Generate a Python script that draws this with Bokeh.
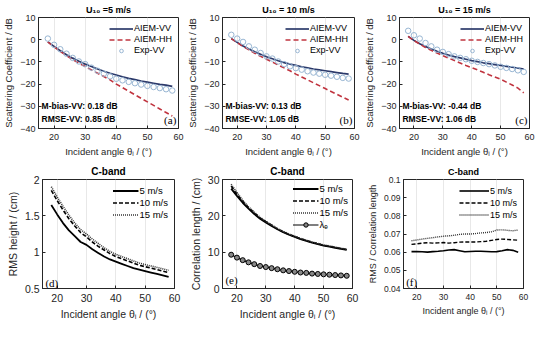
from bokeh.plotting import figure
from bokeh.layouts import column, row
from bokeh.models import Label, FixedTicker
from bokeh.embed import file_html
from bokeh.resources import INLINE

theta = [18, 20, 22, 24, 26, 28, 30, 32, 34, 36, 38, 40, 42, 44, 46, 48, 50, 52, 54, 56, 58]

# Scattering coefficient panels (dB)
vv_5 = [-1.0, -3.0, -5.0, -6.8, -8.3, -9.7, -11.0, -12.1, -13.2, -14.2, -15.1, -15.9, -16.7, -17.4, -18.0, -18.6, -19.1, -19.6, -20.1, -20.5, -21.0]
hh_5 = [-1.0, -3.2, -5.3, -7.2, -9.0, -10.6, -12.1, -13.6, -15.1, -16.6, -18.1, -20.0, -21.6, -23.2, -24.8, -26.4, -28.0, -29.6, -31.2, -32.8, -34.4]
exp_5 = [0.5, -2.3, -4.3, -6.3, -8.2, -9.8, -11.0, -12.6, -14.0, -15.3, -16.5, -17.6, -18.3, -19.0, -19.6, -20.2, -20.8, -21.3, -21.8, -22.3, -22.9]

vv_10 = [0.5, -1.2, -2.8, -4.2, -5.4, -6.6, -7.7, -8.6, -9.5, -10.3, -11.0, -11.6, -12.2, -12.7, -13.2, -13.6, -14.0, -14.4, -14.8, -15.2, -15.5]
hh_10 = [0.5, -1.3, -3.0, -4.6, -6.1, -7.5, -8.8, -10.1, -11.4, -12.7, -14.0, -15.5, -16.8, -18.1, -19.4, -20.7, -22.0, -23.3, -24.6, -25.9, -27.2]
exp_10 = [2.2, 0.5, -1.0, -3.0, -4.5, -6.0, -7.5, -8.5, -9.8, -11.0, -12.0, -12.8, -13.5, -14.2, -14.8, -15.3, -15.8, -16.2, -16.7, -17.2, -17.5]

vv_15 = [1.5, -0.3, -1.8, -3.1, -4.2, -5.2, -6.1, -6.9, -7.6, -8.2, -8.8, -9.4, -9.9, -10.4, -10.8, -11.2, -11.6, -12.0, -12.4, -12.8, -13.2]
hh_15 = [1.5, -0.4, -2.0, -3.5, -4.8, -6.0, -7.2, -8.3, -9.4, -10.5, -11.6, -12.6, -13.6, -14.7, -15.8, -16.8, -17.8, -19.1, -20.4, -21.8, -24.0]
exp_15 = [4.0, 2.0, 0.5, -1.5, -3.0, -4.5, -5.5, -6.5, -7.5, -8.2, -8.8, -9.5, -10.0, -10.5, -11.0, -11.6, -12.2, -12.7, -13.2, -13.8, -14.5]

mbias = ["M-bias-VV: 0.18 dB", "M-bias-VV: 0.13 dB", "M-bias-VV: -0.44 dB"]
rmse = ["RMSE-VV: 0.85 dB", "RMSE-VV: 1.05 dB", "RMSE-VV: 1.06 dB"]
titles_top = ["U\u2081\u2080 =5 m/s", "U\u2081\u2080 = 10 m/s", "U\u2081\u2080 = 15 m/s"]

# RMS height (cm)
rms_5 = [1.65, 1.52, 1.40, 1.30, 1.22, 1.14, 1.10, 1.04, 0.99, 0.94, 0.90, 0.87, 0.84, 0.81, 0.78, 0.76, 0.74, 0.72, 0.70, 0.68, 0.66]
rms_10 = [1.85, 1.71, 1.58, 1.46, 1.36, 1.27, 1.21, 1.14, 1.08, 1.03, 0.98, 0.94, 0.91, 0.88, 0.85, 0.82, 0.80, 0.78, 0.76, 0.74, 0.72]
rms_15 = [1.90, 1.76, 1.63, 1.51, 1.40, 1.31, 1.25, 1.18, 1.12, 1.06, 1.01, 0.97, 0.94, 0.91, 0.88, 0.85, 0.83, 0.81, 0.79, 0.77, 0.75]

# Correlation length (cm)
cl_5 = [27.5, 25.5, 23.6, 22.0, 20.5, 19.2, 18.2, 17.2, 16.3, 15.5, 14.8, 14.2, 13.6, 13.1, 12.6, 12.2, 11.8, 11.5, 11.2, 10.9, 10.6]
cl_10 = [28.2, 26.0, 24.0, 22.3, 20.8, 19.4, 18.4, 17.4, 16.4, 15.6, 14.9, 14.3, 13.7, 13.2, 12.7, 12.3, 11.9, 11.6, 11.3, 11.0, 10.7]
cl_15 = [28.7, 26.4, 24.3, 22.5, 21.0, 19.6, 18.5, 17.5, 16.5, 15.7, 15.0, 14.4, 13.8, 13.3, 12.8, 12.4, 12.0, 11.7, 11.4, 11.1, 10.8]
lam_e = [9.3, 8.5, 7.8, 7.2, 6.7, 6.2, 5.9, 5.6, 5.3, 5.0, 4.8, 4.6, 4.4, 4.3, 4.1, 4.0, 3.9, 3.8, 3.7, 3.6, 3.5]

# RMS / correlation length
ratio_5 = [0.0603, 0.0603, 0.0602, 0.0600, 0.0603, 0.0605, 0.0608, 0.0612, 0.0614, 0.0608, 0.0602, 0.0604, 0.0605, 0.0605, 0.0604, 0.0602, 0.0603, 0.0608, 0.0614, 0.0610, 0.0600]
ratio_10 = [0.0643, 0.0646, 0.0650, 0.0652, 0.0650, 0.0651, 0.0653, 0.0650, 0.0652, 0.0655, 0.0656, 0.0656, 0.0656, 0.0658, 0.0660, 0.0665, 0.0670, 0.0672, 0.0670, 0.0668, 0.0666]
ratio_15 = [0.0663, 0.0667, 0.0672, 0.0676, 0.0680, 0.0684, 0.0688, 0.0690, 0.0693, 0.0698, 0.0700, 0.0700, 0.0702, 0.0706, 0.0708, 0.0712, 0.0722, 0.0723, 0.0720, 0.0718, 0.0722]

xticks = [20, 30, 40, 50, 60]
yticks_top = [-40, -30, -20, -10, 0, 10]
yticks_d = [0.5, 1.0, 1.5, 2.0]
ylabels_d = ["0.5", "1", "1.5", "2"]
yticks_e = [0, 10, 20, 30]
yticks_f = [0.04, 0.05, 0.06, 0.07, 0.08, 0.09, 0.1]
ylabels_f = ["0.04", "0.05", "0.06", "0.07", "0.08", "0.09", "0.1"]

FONT = "Liberation Sans"
SERIF = "Liberation Serif"
TXT = "#262626"
XLABEL = "Incident angle \u03b8\u1d62 / (\u00b0)"


def make_fig(title, left, fw, right, top, fh, bottom, yrange, yticks, ylabel,
             tick_fs="9px", lab_fs="9.5px", title_fs="9px", tick_sd=5, lab_sd=3):
    p = figure(frame_width=fw, frame_height=fh, min_border_left=left, min_border_right=right,
               min_border_top=top, min_border_bottom=bottom, x_range=(15, 60), y_range=yrange,
               output_backend="svg", toolbar_location=None, title=title)
    p.title.text_font = FONT
    p.title.text_font_size = title_fs
    p.title.text_font_style = "bold"
    p.title.text_color = "black"
    p.title.align = "center"
    p.title.standoff = 5
    p.outline_line_color = TXT
    p.outline_line_alpha = 1
    p.outline_line_width = 1
    p.background_fill_color = "white"
    p.border_fill_color = "white"
    p.ygrid.visible = False
    p.xgrid.grid_line_color = "#e8e8e8"
    p.xaxis.ticker = FixedTicker(ticks=xticks)
    p.yaxis.ticker = FixedTicker(ticks=yticks)
    for ax in (p.xaxis[0], p.yaxis[0]):
        ax.axis_line_color = TXT
        ax.major_tick_line_color = TXT
        ax.major_tick_in = 3
        ax.major_tick_out = 0
        ax.minor_tick_line_color = None
        ax.major_label_text_font = FONT
        ax.major_label_text_font_size = tick_fs
        ax.major_label_text_color = TXT
        ax.axis_label_text_font = FONT
        ax.axis_label_text_font_size = lab_fs
        ax.axis_label_text_font_style = "normal"
        ax.axis_label_text_color = TXT
        ax.axis_label_standoff = lab_sd
    p.xaxis.major_label_standoff = tick_sd
    p.yaxis.major_label_standoff = 3
    p.xaxis.axis_label = XLABEL
    p.yaxis.axis_label = ylabel
    return p


def style_legend(p, fs="9px", gw=24, lh=9, sp=1, mg=4):
    lg = p.legend[0]
    lg.location = "top_right"
    lg.background_fill_alpha = 0
    lg.border_line_alpha = 0
    lg.label_text_font = FONT
    lg.label_text_font_size = fs
    lg.label_text_color = "black"
    lg.glyph_width = gw
    lg.glyph_height = lh
    lg.label_height = lh
    lg.label_standoff = 1
    lg.spacing = sp
    lg.padding = 1
    lg.margin = mg


VV_C = "#2c3a6b"
HH_C = "#c0343f"
EXP_C = "#98b6d3"

top_geo = [(37, 140, 6), (38, 132, 7), (36, 130, 8)]
top_data = [(vv_5, hh_5, exp_5), (vv_10, hh_10, exp_10), (vv_15, hh_15, exp_15)]
letters_top = ["(a)", "(b)", "(c)"]
top_figs = []
for i in range(3):
    l, fw, r = top_geo[i]
    vv, hh, ex = top_data[i]
    p = make_fig(titles_top[i], l, fw, r, 17, 111, 33, (-40, 10), yticks_top,
                 "Scattering Coefficient / dB")
    p.line(theta, vv, line_color=VV_C, line_width=1.7, legend_label="AIEM-VV")
    p.line(theta, hh, line_color=HH_C, line_width=1.6, line_dash="5 3", legend_label="AIEM-HH")
    p.scatter(theta, ex, marker="circle", size=5.5, fill_color=None, line_color=EXP_C,
              line_width=1, legend_label="Exp-VV")
    style_legend(p, mg=5)
    p.add_layout(Label(x=16, y=-30.0, text=mbias[i], text_font=FONT, text_font_size="8.5px",
                       text_color="black", text_font_style="bold", text_baseline="middle"))
    p.add_layout(Label(x=16, y=-35.8, text=rmse[i], text_font=FONT, text_font_size="8.5px",
                       text_color="black", text_font_style="bold", text_baseline="middle"))
    p.add_layout(Label(x=59.3, y=-36.3, text=letters_top[i], text_font=SERIF, text_font_size="11px",
                       text_color="black", text_align="right", text_baseline="middle"))
    top_figs.append(p)

# (d)
pd_ = make_fig("C-band", 42, 132, 9, 17, 109, 36, (0.5, 2), yticks_d, "RMS height / (cm)",
               tick_fs="10.5px", lab_fs="10.5px", title_fs="10px", tick_sd=5, lab_sd=3)
pd_.yaxis.major_label_overrides = dict(zip(yticks_d, ylabels_d))
pd_.line(theta, rms_5, line_color="black", line_width=1.8, legend_label="5 m/s")
pd_.line(theta, rms_10, line_color="black", line_width=1.6, line_dash="4 2", legend_label="10 m/s")
pd_.line(theta, rms_15, line_color="#333333", line_width=1.6, line_dash="1 1", legend_label="15 m/s")
style_legend(pd_, fs="9.5px", gw=26, lh=11, sp=1, mg=5)
pd_.add_layout(Label(x=16, y=0.58, text="(d)", text_font=SERIF, text_font_size="11px",
                     text_color="black", text_baseline="middle"))

# (e)
pe = make_fig("C-band", 39, 130, 8, 17, 109, 36, (0, 30), yticks_e, "Correlation length / (cm)",
              tick_fs="10.5px", lab_fs="10.5px", title_fs="10px", tick_sd=5, lab_sd=3)
pe.line(theta, cl_5, line_color="black", line_width=1.8, legend_label="5 m/s")
pe.line(theta, cl_10, line_color="black", line_width=1.6, line_dash="4 2", legend_label="10 m/s")
pe.line(theta, cl_15, line_color="#333333", line_width=1.6, line_dash="1 1", legend_label="15 m/s")
pe.line(theta, lam_e, line_color="black", line_width=1.2, legend_label="\u03bb\u2091")
pe.scatter(theta, lam_e, marker="circle", size=5, fill_color="#888888", line_color="black",
           line_width=1, legend_label="\u03bb\u2091")
style_legend(pe, fs="9.5px", gw=26, lh=11, sp=1, mg=3)
pe.add_layout(Label(x=16, y=2.3, text="(e)", text_font=SERIF, text_font_size="11px",
                    text_color="black", text_baseline="middle"))

# (f)
pf = make_fig("C-band", 43, 120, 11, 17, 109, 36, (0.04, 0.1), yticks_f, "RMS / Correlation length",
              tick_fs="8.5px", lab_fs="9px", title_fs="9px", tick_sd=5, lab_sd=3)
pf.yaxis.major_label_overrides = dict(zip(yticks_f, ylabels_f))
pf.line(theta, ratio_5, line_color="black", line_width=1.6, legend_label="5 m/s")
pf.line(theta, ratio_10, line_color="black", line_width=1.4, line_dash="4 2", legend_label="10 m/s")
pf.line(theta, ratio_15, line_color="#333333", line_width=1.4, line_dash="1 1", legend_label="15 m/s")
style_legend(pf, fs="9px", gw=30, lh=11, sp=1, mg=5)
pf.add_layout(Label(x=16, y=0.0435, text="(f)", text_font=SERIF, text_font_size="11px",
                    text_color="black", text_baseline="middle"))

layout = column(row(*top_figs), row(pd_, pe, pf))
open("out.html", "w").write(file_html(layout, INLINE))
